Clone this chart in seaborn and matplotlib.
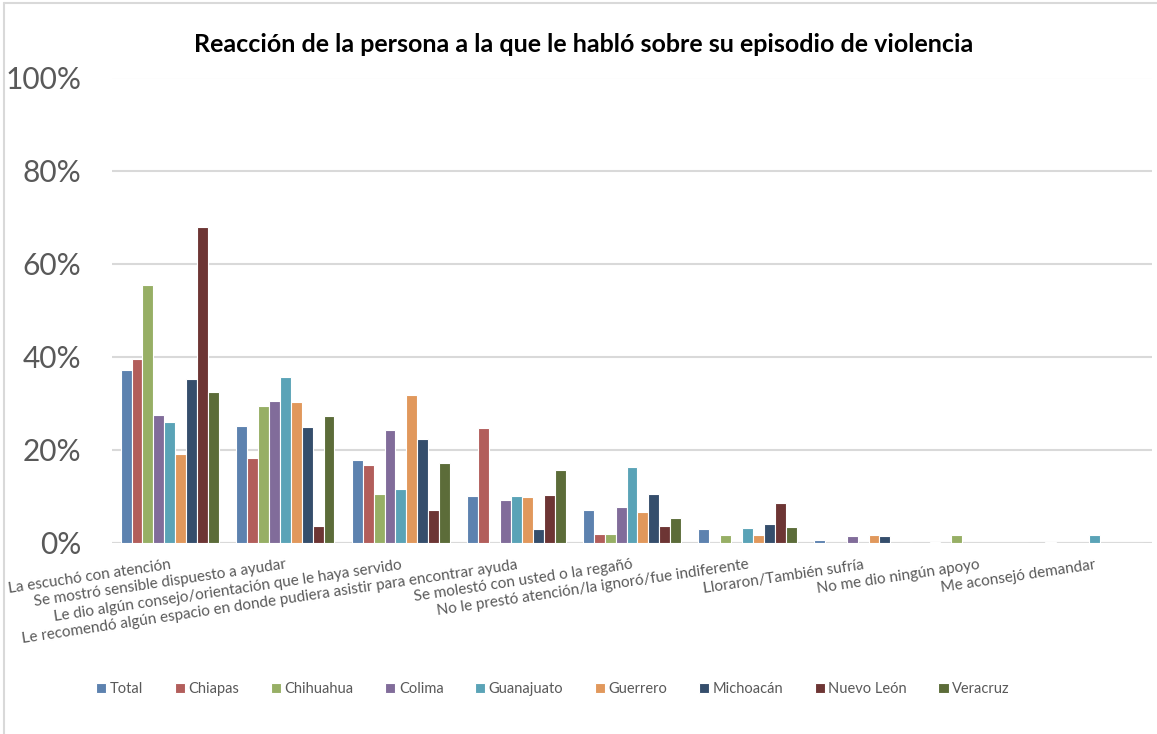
import matplotlib
matplotlib.use("Agg")
import matplotlib.pyplot as plt
from matplotlib.lines import Line2D
import seaborn as sns
import pandas as pd

# Datos (porcentaje)
categorias = [
    "La escuchó con atención",
    "Se mostró sensible dispuesto a ayudar",
    "Le dio algún consejo/orientación que le haya servido",
    "Le recomendó algún espacio en donde pudiera asistir para encontrar ayuda",
    "Se molestó con usted o la regañó",
    "No le prestó atención/la ignoró/fue indiferente",
    "Lloraron/También sufría",
    "No me dio ningún apoyo",
    "Me aconsejó demandar",
]
estados = ["Total", "Chiapas", "Chihuahua", "Colima", "Guanajuato",
           "Guerrero", "Michoacán", "Nuevo León", "Veracruz"]

total = [37.2, 25.0, 17.8, 10.1, 6.9, 2.9, 0.5, 0.2, 0.2]
chiapas = [39.4, 18.1, 16.6, 24.7, 1.8, 0.0, 0.0, 0.0, 0.0]
chihuahua = [55.3, 29.4, 10.4, 0.0, 1.8, 1.7, 0.0, 1.7, 0.0]
colima = [27.4, 30.4, 24.3, 9.2, 7.7, 0.0, 1.5, 0.0, 0.0]
guanajuato = [25.9, 35.6, 11.4, 9.9, 16.3, 3.2, 0.0, 0.0, 1.6]
guerrero = [19.1, 30.3, 31.8, 9.7, 6.5, 1.6, 1.6, 0.0, 0.0]
michoacan = [35.2, 24.9, 22.2, 2.8, 10.5, 3.9, 1.3, 0.0, 0.0]
nuevo_leon = [67.9, 3.5, 6.9, 10.3, 3.6, 8.5, 0.0, 0.0, 0.0]
veracruz = [32.3, 27.2, 17.0, 15.5, 5.2, 3.4, 0.0, 0.0, 0.0]

colores = ["#4F81BD", "#C0504D", "#9BBB59", "#8064A2", "#4BACC6",
           "#F79646", "#2C4D75", "#772C2A", "#5F7530"]

series = [total, chiapas, chihuahua, colima, guanajuato,
          guerrero, michoacan, nuevo_leon, veracruz]
rows = []
for estado, valores in zip(estados, series):
    for cat, v in zip(categorias, valores):
        rows.append({"reaccion": cat, "estado": estado, "valor": v})
df = pd.DataFrame(rows)

sns.set_style("white")
plt.rcParams["font.family"] = ["Lato", "DejaVu Sans"]
gris = "#595959"

fig = plt.figure(figsize=(11.57, 7.34), dpi=100)
ax = fig.add_axes([112 / 1157, 1 - 542.5 / 734, 1040 / 1157, 465 / 734])

sns.barplot(data=df, x="reaccion", y="valor", hue="estado",
            order=categorias, hue_order=estados, palette=colores,
            width=0.85, edgecolor="white", linewidth=0.8, ax=ax)

ax.set_xlim(-0.5, len(categorias) - 0.5)
ax.set_ylim(0, 100)
ax.set_yticks([0, 20, 40, 60, 80, 100])
ax.set_yticklabels(["0%", "20%", "40%", "60%", "80%", "100%"])
ax.yaxis.grid(True, color="#D9D9D9", linewidth=1.5)
ax.set_axisbelow(True)
for s in ax.spines.values():
    s.set_visible(False)
ax.axhline(0, color="#D9D9D9", linewidth=1.5, zorder=0)

ax.tick_params(axis="y", labelsize=21.5, labelcolor=gris, length=0, pad=22)
ax.tick_params(axis="x", labelsize=11, labelcolor=gris, length=0, pad=11)
ax.set_xticks(range(len(categorias)))
ax.set_xticklabels(categorias, rotation=8.5, ha="right", va="top",
                   rotation_mode="anchor")
ax.set_xlabel("")
ax.set_ylabel("")

# leyenda inferior
handles, labels = ax.get_legend_handles_labels()
ax.get_legend().remove()
fig.legend(handles, labels, ncol=9, loc="center",
           bbox_to_anchor=(553 / 1157, 1 - 689 / 734), frameon=False,
           fontsize=10.5, labelcolor=gris, handlelength=0.7, handleheight=0.7,
           handletextpad=0.25, columnspacing=2.15)

fig.text(584 / 1157, 1 - 44 / 734,
         "Reacción de la persona a la que le habló sobre su episodio de violencia",
         ha="center", va="center", fontsize=18, fontweight="bold", color="black")

# borde del área del gráfico
fig.add_artist(Line2D([4 / 1157, 4 / 1157], [0, 1 - 3 / 734],
                      transform=fig.transFigure, color="#D9D9D9", linewidth=1.5))
fig.add_artist(Line2D([4 / 1157, 1], [1 - 3 / 734, 1 - 3 / 734],
                      transform=fig.transFigure, color="#D9D9D9", linewidth=1.5))

fig.savefig("out.png", dpi=100)
